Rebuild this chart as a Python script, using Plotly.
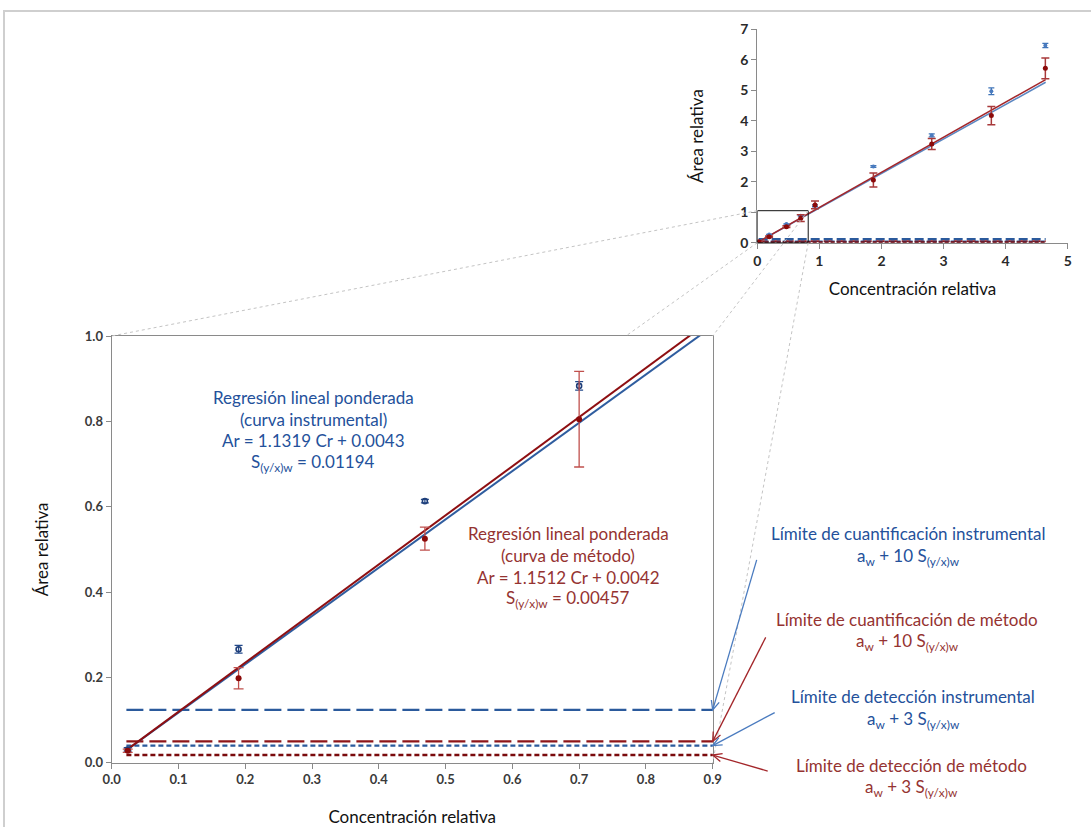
import math
import plotly.graph_objects as go

# Relative concentration of the calibration levels
conc = [0.024, 0.19, 0.469, 0.70, 0.93, 1.87, 2.81, 3.77, 4.64]

# Instrumental curve: mean relative area and its error
area_inst = [0.031, 0.266, 0.613, 0.883, 1.21, 2.50, 3.52, 4.97, 6.47]
err_inst = [0.004, 0.009, 0.004, 0.010, 0.03, 0.03, 0.05, 0.11, 0.07]

# Method curve: mean relative area and its error
area_meth = [0.028, 0.198, 0.525, 0.805, 1.24, 2.06, 3.24, 4.17, 5.72]
err_meth = [0.004, 0.025, 0.027, 0.112, 0.13, 0.23, 0.18, 0.30, 0.34]

# Weighted regressions: slope, intercept a_w, S(y/x)w
fit_inst = [1.1319, 0.0043, 0.01194]
fit_meth = [1.1512, 0.0042, 0.00457]

# Span of the fitted lines and the limit lines
fit_span = [0.022, 4.645]

# Axis ticks
main_xticks = [0.0, 0.1, 0.2, 0.3, 0.4, 0.5, 0.6, 0.7, 0.8, 0.9]
main_yticks = [0.0, 0.2, 0.4, 0.6, 0.8, 1.0]
small_xticks = [0, 1, 2, 3, 4, 5]
small_yticks = [0, 1, 2, 3, 4, 5, 6, 7]

# Region of the overview chart that is enlarged in the main chart
zoom_box = [0.0, 0.82, 0.0, 1.05]

# ---------------------------------------------------------------- layout
W, H = 1091, 827
FONT = "Lato"
BLUE_TXT = "#24519b"
RED_TXT = "#953331"
AXIS_GREY = "#8a8a8a"

MAIN_PX = (111.7, 712.7)
MAIN_PY = (336.0, 762.7)
SMALL_PX = (757.3, 1067.7)
SMALL_PY = (29.3, 242.7)
MAIN_RX, MAIN_RY = [0, 0.9], [0, 1.0]
SMALL_RX, SMALL_RY = [0, 5], [0, 7]


def fx(p):
    return p / W


def fy(p):
    return 1 - p / H


def to_pixel(xv, yv, px, py, rx, ry):
    X = px[0] + (xv - rx[0]) / (rx[1] - rx[0]) * (px[1] - px[0])
    Y = py[1] - (yv - ry[0]) / (ry[1] - ry[0]) * (py[1] - py[0])
    return X, Y


def line_y(fit, xs):
    return [fit[0] * x + fit[1] for x in xs]


lq_inst = fit_inst[1] + 10 * fit_inst[2]
ld_inst = fit_inst[1] + 3 * fit_inst[2]
lq_meth = fit_meth[1] + 10 * fit_meth[2]
ld_meth = fit_meth[1] + 3 * fit_meth[2]

fig = go.Figure()


def add_panel(xa, ya, big):
    lw_fit = 2.0 if big else 1.5
    blue_line = "#2f5d9f" if big else "#5b87c2"
    red_line = "#8e0f12" if big else "#a3262a"
    long_dash = "17px,6px" if big else "9px,4px"
    short_dash = "5px,3px" if big else "4px,2px"
    lw_lim = 2.4 if big else 2.0

    # detection / quantification limits
    for yv, col, dash in [
        (lq_inst, "#2b5a9c", long_dash),
        (lq_meth, "#8e1518", long_dash),
        (ld_inst, "#2b5a9c", short_dash),
        (ld_meth, "#7a0a0c", short_dash),
    ]:
        fig.add_trace(go.Scatter(
            x=fit_span, y=[yv, yv], mode="lines", xaxis=xa, yaxis=ya,
            line=dict(color=col, width=lw_lim, dash=dash),
            hoverinfo="skip", showlegend=False))

    # weighted regression lines
    fig.add_trace(go.Scatter(
        x=fit_span, y=line_y(fit_inst, fit_span), mode="lines",
        xaxis=xa, yaxis=ya, line=dict(color=blue_line, width=lw_fit),
        showlegend=False))
    fig.add_trace(go.Scatter(
        x=fit_span, y=line_y(fit_meth, fit_span), mode="lines",
        xaxis=xa, yaxis=ya, line=dict(color=red_line, width=lw_fit),
        showlegend=False))

    # measured points with error bars
    fig.add_trace(go.Scatter(
        x=conc, y=area_inst, mode="markers", xaxis=xa, yaxis=ya,
        error_y=dict(type="data", array=err_inst,
                     color="#23498a" if big else "#3f74b8",
                     thickness=1.3, width=4 if big else 3),
        marker=dict(symbol="circle-open" if big else "circle",
                    size=5 if big else 4,
                    color="#1f3f7a" if big else "#4a7bbf",
                    line=dict(width=1.6 if big else 0)),
        showlegend=False))
    fig.add_trace(go.Scatter(
        x=conc, y=area_meth, mode="markers", xaxis=xa, yaxis=ya,
        error_y=dict(type="data", array=err_meth,
                     color="#c0504d" if big else "#a8393a",
                     thickness=1.3 if big else 1.5, width=5 if big else 4),
        marker=dict(symbol="circle", size=6 if big else 5, color="#8b0a0a"),
        showlegend=False))


add_panel("x2", "y2", False)
add_panel("x", "y", True)

axis_common = dict(showgrid=False, zeroline=False, showline=True,
                   linecolor=AXIS_GREY, linewidth=1.2, ticks="outside",
                   ticklen=5, tickcolor=AXIS_GREY, automargin=False)
tick_main = dict(size=13, color="#3a3a3a", weight="bold")
tick_small = dict(size=14, color="#2a2a2a", weight="bold")
title_font = dict(size=17, color="#111111")

fig.update_layout(
    width=W, height=H,
    margin=dict(l=0, r=0, t=0, b=0),
    paper_bgcolor="white", plot_bgcolor="white",
    template="none",
    font=dict(family=FONT, color="#262626"),
    xaxis=dict(**axis_common, domain=[fx(MAIN_PX[0]), fx(MAIN_PX[1])],
               range=MAIN_RX, tickvals=main_xticks, tickformat=".1f",
               mirror=True, anchor="y", tickfont=tick_main,
               title=dict(text="Concentración relativa", standoff=24,
                          font=title_font)),
    yaxis=dict(**axis_common, domain=[fy(MAIN_PY[1]), fy(MAIN_PY[0])],
               range=MAIN_RY, tickvals=main_yticks, tickformat=".1f",
               mirror=True, anchor="x", tickfont=tick_main,
               title=dict(text="Área relativa", standoff=31,
                          font=title_font)),
    xaxis2=dict(**axis_common, domain=[fx(SMALL_PX[0]), fx(SMALL_PX[1])],
                range=SMALL_RX, tickvals=small_xticks, anchor="y2",
                tickfont=tick_small,
                title=dict(text="Concentración relativa", standoff=15,
                           font=title_font)),
    yaxis2=dict(**axis_common, domain=[fy(SMALL_PY[1]), fy(SMALL_PY[0])],
                range=SMALL_RY, tickvals=small_yticks, anchor="x2",
                tickfont=tick_small,
                title=dict(text="Área relativa", standoff=32,
                           font=title_font)),
)

shapes = []
# outer chart-area border
shapes.append(dict(type="rect", xref="paper", yref="paper",
                   x0=fx(4), x1=fx(W + 6), y0=fy(H + 6), y1=fy(11),
                   line=dict(color="#cfcfcf", width=2)))
# enlarged region on the overview chart
shapes.append(dict(type="rect", xref="x2", yref="y2",
                   x0=zoom_box[0], x1=zoom_box[1], y0=zoom_box[2], y1=zoom_box[3],
                   line=dict(color="#111111", width=1)))
# dotted connectors between the enlarged region and the main chart
conn = [
    ((zoom_box[0], zoom_box[3]), (MAIN_RX[0], MAIN_RY[1])),
    ((zoom_box[0], zoom_box[2]), (0.77, MAIN_RY[1])),
    ((zoom_box[1], zoom_box[3]), (MAIN_RX[1], MAIN_RY[1])),
    ((zoom_box[1], zoom_box[2]), (MAIN_RX[1], MAIN_RY[0])),
]
for (sx, sy), (mx, my) in conn:
    X0, Y0 = to_pixel(sx, sy, SMALL_PX, SMALL_PY, SMALL_RX, SMALL_RY)
    X1, Y1 = to_pixel(mx, my, MAIN_PX, MAIN_PY, MAIN_RX, MAIN_RY)
    shapes.append(dict(type="line", xref="paper", yref="paper",
                       x0=fx(X0), y0=fy(Y0), x1=fx(X1), y1=fy(Y1),
                       line=dict(color="#c4c4c4", width=1, dash="dot")))

# arrows from the limit labels to the limit lines (shaft + open head)
HEAD_LEN, HEAD_ANG = 10.0, math.radians(24)
for yv, col, dx, dy in [
    (lq_inst, "#4a7bbf", 44, -150),
    (lq_meth, "#a3262a", 53, -104),
    (ld_inst, "#4a7bbf", 62, -33),
    (ld_meth, "#a3262a", 55, 16),
]:
    tx, ty = to_pixel(MAIN_RX[1], yv, MAIN_PX, MAIN_PY, MAIN_RX, MAIN_RY)
    sx, sy = tx + dx, ty + dy
    shapes.append(dict(type="line", xref="paper", yref="paper",
                       x0=fx(sx), y0=fy(sy), x1=fx(tx), y1=fy(ty),
                       line=dict(color=col, width=1.3)))
    ang = math.atan2(dy, dx)
    b1 = (tx + HEAD_LEN * math.cos(ang + HEAD_ANG), ty + HEAD_LEN * math.sin(ang + HEAD_ANG))
    b2 = (tx + HEAD_LEN * math.cos(ang - HEAD_ANG), ty + HEAD_LEN * math.sin(ang - HEAD_ANG))
    path = (f"M {fx(b1[0])},{fy(b1[1])} L {fx(tx)},{fy(ty)} "
            f"L {fx(b2[0])},{fy(b2[1])}")
    shapes.append(dict(type="path", xref="paper", yref="paper", path=path,
                       line=dict(color=col, width=1.3)))

fig.update_layout(shapes=shapes)

annotations = []


def text_lines(lines, cx, ys, color, size=17):
    for t, y in zip(lines, ys):
        annotations.append(dict(
            text=t, xref="paper", yref="paper", x=fx(cx), y=fy(y),
            xanchor="center", yanchor="middle", showarrow=False,
            font=dict(family=FONT, size=size, color=color)))


text_lines(["Regresión lineal ponderada", "(curva instrumental)",
            f"Ar = {fit_inst[0]:.4f} Cr + {fit_inst[1]:.4f}",
            f"S<sub>(y/x)w</sub> = {fit_inst[2]:.5f}"],
           313, [397.3, 419, 440.5, 462.5], BLUE_TXT)
text_lines(["Regresión lineal ponderada", "(curva de método)",
            f"Ar = {fit_meth[0]:.4f} Cr + {fit_meth[1]:.4f}",
            f"S<sub>(y/x)w</sub> = {fit_meth[2]:.5f}"],
           568, [533.3, 555, 577.3, 599.3], RED_TXT)

text_lines(["Límite de cuantificación instrumental",
            "a<sub>w</sub> + 10 S<sub>(y/x)w</sub>"], 908, [533.3, 557], BLUE_TXT)
text_lines(["Límite de cuantificación de método",
            "a<sub>w</sub> + 10 S<sub>(y/x)w</sub>"], 907, [619, 642], RED_TXT)
text_lines(["Límite de detección instrumental",
            "a<sub>w</sub> + 3 S<sub>(y/x)w</sub>"], 913, [696.7, 720], BLUE_TXT)
text_lines(["Límite de detección de método",
            "a<sub>w</sub> + 3 S<sub>(y/x)w</sub>"], 911, [765, 788], RED_TXT)

fig.update_layout(annotations=annotations)

fig.write_html("out.html")
